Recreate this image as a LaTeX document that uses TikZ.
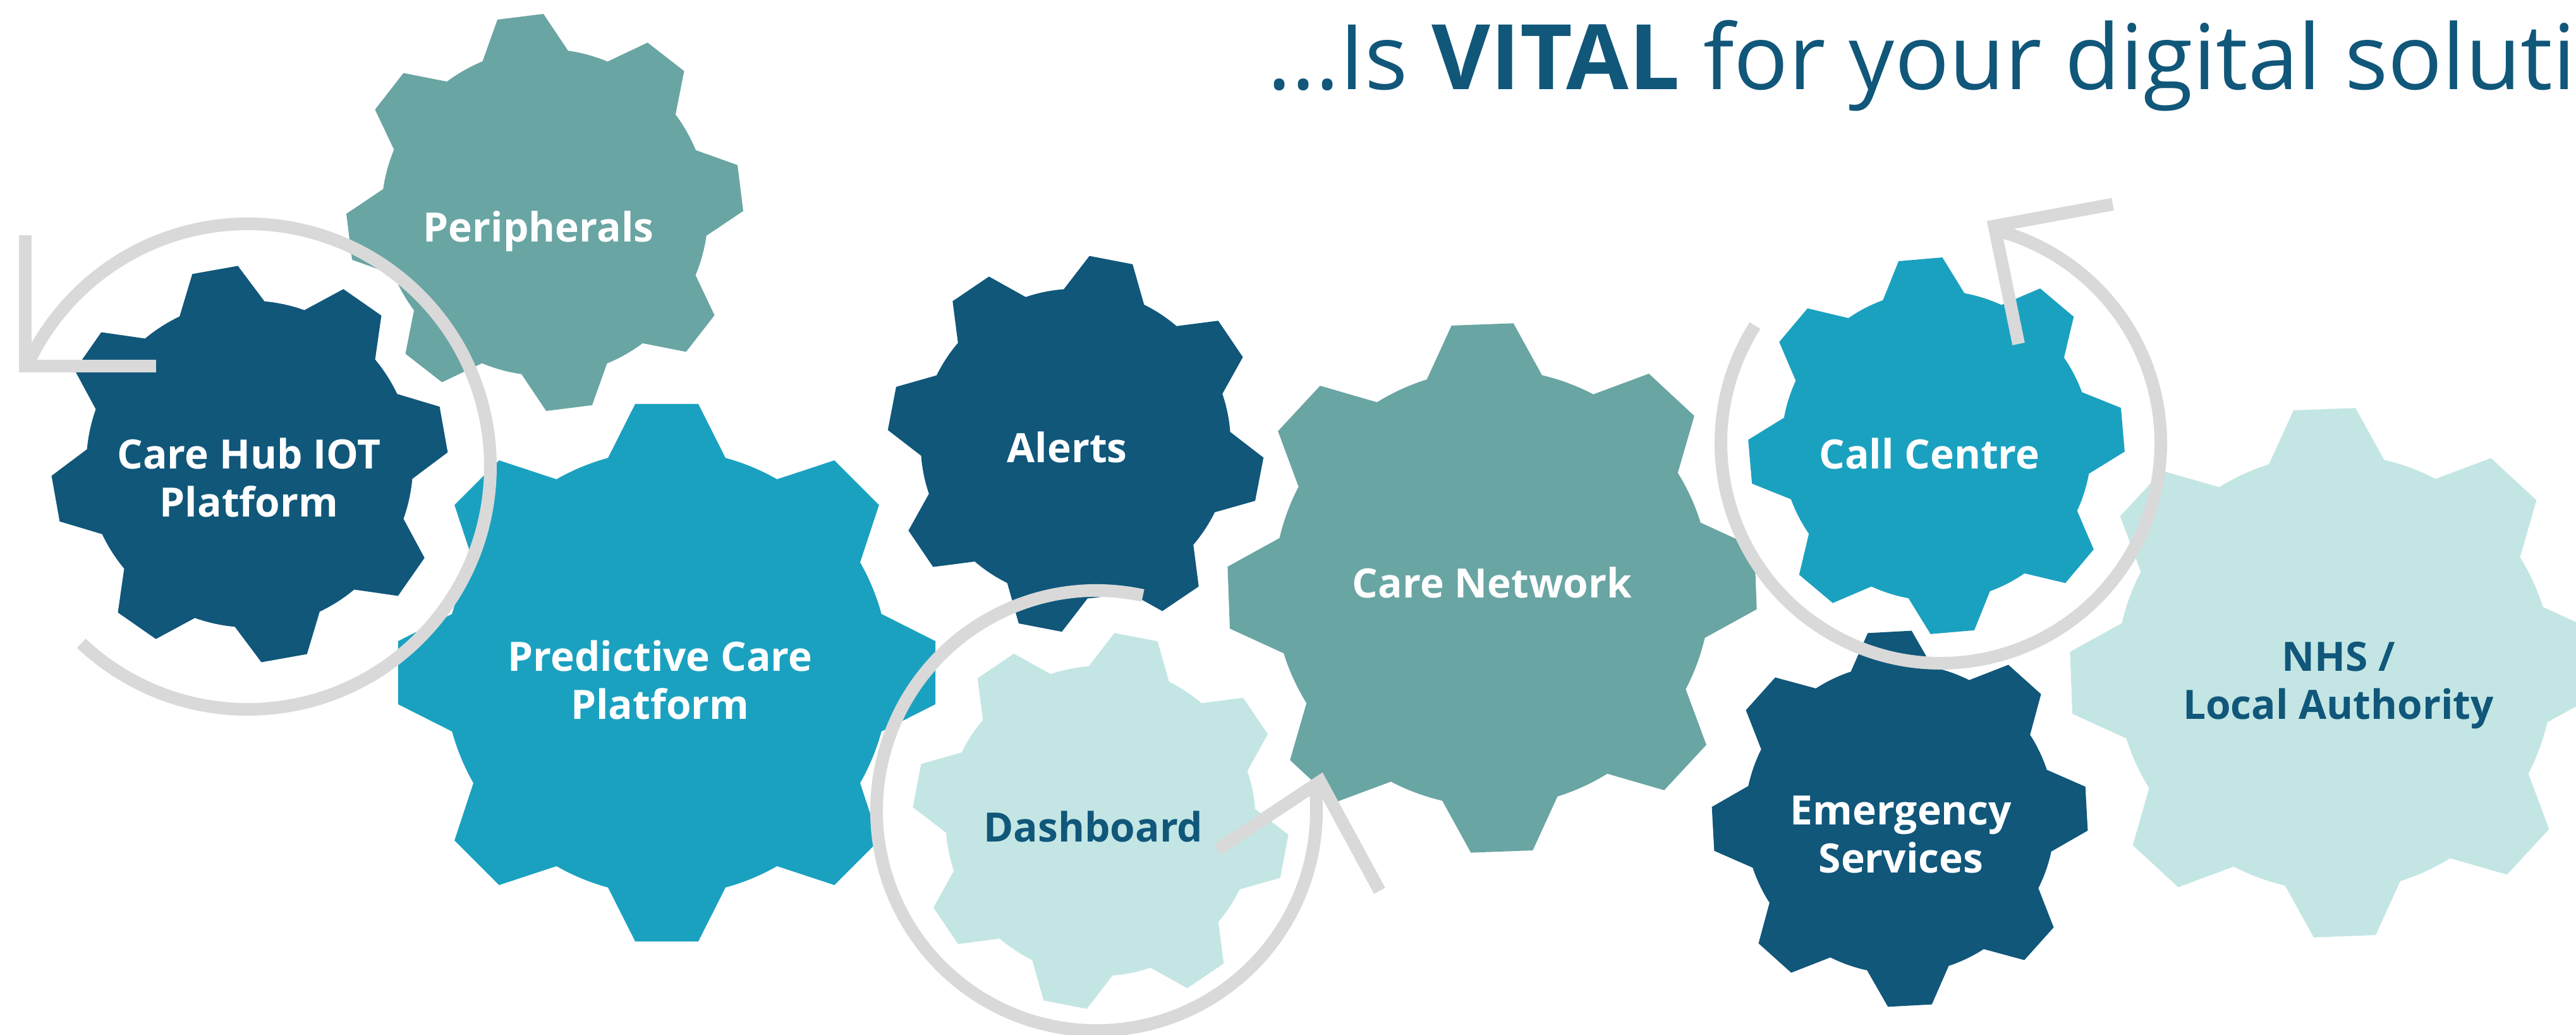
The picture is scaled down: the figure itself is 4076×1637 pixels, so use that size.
\documentclass[tikz,border=0pt]{standalone}
\usepackage{fontspec}
\setmainfont{Open Sans}
\definecolor{navy}{HTML}{10577A}
\definecolor{cblue}{HTML}{1BA1C0}
\definecolor{cteal}{HTML}{69A5A3}
\definecolor{clight}{HTML}{C3E6E4}
\definecolor{ringgrey}{HTML}{D9D9D9}
% gear: #1 x, #2 y, #3 outer radius, #4 phase of a tooth, #5 colour
\newcommand{\drawcog}[5]{%
  \begin{scope}[shift={(#1,#2)}]
    \pgfmathsetmacro\cogr{0.823*#3}
    \fill[#5] ({#4-15.3}:\cogr)
      \foreach \k in {0,...,7}{
        -- ({#4+45*\k-15.3}:\cogr) -- ({#4+45*\k-6.7}:#3)
        -- ({#4+45*\k+6.7}:#3) -- ({#4+45*\k+15.3}:\cogr)
        arc[start angle={#4+45*\k+15.3}, end angle={#4+45*\k+29.7}, radius=\cogr]
      } -- cycle;
  \end{scope}}
\tikzset{
  ring/.style={draw=ringgrey, line width=0.2cm},
  lab/.style={font=\fontsize{18.2pt}{21.6pt}\selectfont\bfseries, text=white, inner sep=0pt, anchor=base},
  darklab/.style={lab, text=navy},
  titletext/.style={font=\fontsize{40.7pt}{48pt}\selectfont, text=navy, inner sep=0pt, anchor=base west}
}
\begin{document}
\begin{tikzpicture}[x=0.01cm,y=0.01cm]
\useasboundingbox (0,0) rectangle (4076,1637);
\clip (0,0) rectangle (4076,1637);
\fill[white] (0,0) rectangle (4076,1637);

% gears
\drawcog{862}{1301}{314}{97.1}{cteal}
\drawcog{395}{903}{314}{100.1}{navy}
\drawcog{1055}{573}{428}{90}{cblue}
\drawcog{1702}{935}{298}{79.1}{navy}
\drawcog{1741.5}{338.6}{298}{79.1}{clight}
\drawcog{2361}{707}{420}{92.1}{cteal}
\drawcog{3064}{932}{298}{94.9}{cblue}
\drawcog{3006}{342}{298}{93.1}{navy}
\drawcog{3694}{573}{420}{92.2}{clight}

% labels
\node[lab] (periph) at (852,1254.5) {Peripherals};
\node[lab] (carehub) at (394,895) {\begin{tabular}[t]{@{}c@{}}Care Hub IOT\\Platform\end{tabular}};
\node[lab] (predict) at (1044.5,575) {\begin{tabular}[t]{@{}c@{}}Predictive Care\\Platform\end{tabular}};
\node[lab] (alerts) at (1688.6,905) {Alerts};
\node[darklab] (dash) at (1730,305.5) {Dashboard};
\node[lab] (network) at (2361,691) {Care Network};
\node[lab] (callc) at (3053,895.3) {Call Centre};
\node[lab] (emerg) at (3008,332.5) {\begin{tabular}[t]{@{}c@{}}Emergency\\Services\end{tabular}};
\node[darklab] (nhs) at (3700,575) {\begin{tabular}[t]{@{}c@{}}NHS /\\Local Authority\end{tabular}};

% title
\node[titletext] (title) at (2005,1495) {...Is \textbf{VITAL} for your digital soluti};

% circular arrows
\coordinate (hubc) at (392,899);
\coordinate (hubtip) at (40,1058.4);
\draw[ring] ([shift={(226.7:384)}]hubc) arc[start angle=226.7, end angle=515.4, radius=384];
\draw[ring] (40,1264.5) -- (hubtip) -- (247,1058.4);

\coordinate (dashc) at (1735,355);
\coordinate (dashtip) at (2089,401);
\draw[ring] ([shift={(77.8:348)}]dashc) arc[start angle=77.8, end angle=367.4, radius=348];
\draw[ring] (1926,293) -- (dashtip) -- (2183,228);

\coordinate (callcc) at (3071,936);
\coordinate (calltip) at (3155.6,1279.4);
\draw[ring] ([shift={(147.7:348)}]callcc) arc[start angle=147.7, end angle=436.5, radius=348];
\draw[ring] (3343,1314) -- (calltip) -- (3194,1093);
\end{tikzpicture}
\end{document}
